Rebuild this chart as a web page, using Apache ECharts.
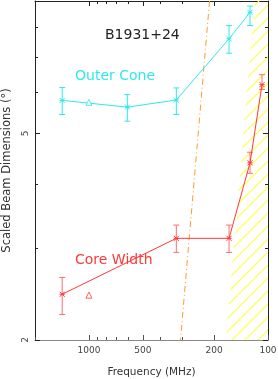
<!DOCTYPE html>
<html><head><meta charset="utf-8">
<script src="https://cdn.jsdelivr.net/npm/echarts@6/dist/echarts.min.js"></script>
<style>html,body{margin:0;padding:0;background:#fff}#c{width:278px;height:379px}</style>
</head><body><div id="c"></div>
<script>
// ---- data ----
const outerFreq = [1410, 610, 325, 165, 126];
const outerVal  = [5.79, 5.62, 5.80, 7.61, 8.56];
const outerLo   = [5.44, 5.28, 5.44, 7.14, 8.07];
const outerHi   = [6.13, 5.94, 6.12, 8.07, 8.80];
const outerTriFreq = [1000];
const outerTriVal  = [5.74];

const coreFreq = [1410, 325, 165, 126, 108];
const coreVal  = [2.45, 3.14, 3.14, 4.39, 6.21];
const coreLo   = [2.24, 2.95, 2.95, 4.19, 6.08];
const coreHi   = [2.64, 3.33, 3.33, 4.60, 6.49];
const coreTriFreq = [1000];
const coreTriVal  = [2.44];

const limitFreq = [212, 308];
const limitVal  = [9, 2];

const hatchFreq = [172, 119, 100, 100];
const hatchVal  = [2, 9, 9, 2];

const xMajor = [1000, 500, 200, 100];
const xMinor = [2000, 900, 800, 700, 600, 400, 300];
const yMajor = [2, 5];
const yMinor = [3, 4, 6, 7, 8, 9];
const FMIN = 100, FMAX = 2000, VMIN = 2, VMAX = 9;

// ---- helpers ----
const L = Math.log10;
const CYAN = '#2ee9ee', RED = '#ff3838', RED_ERR = '#ff6e6e', ORANGE = '#ff9a2e';
const pair = (fs, vs) => fs.map((f, i) => [L(f), L(vs[i])]);
const errData = (fs, lo, hi) => fs.map((f, i) => [L(f), L(lo[i]), L(hi[i])]);

const tile = document.createElement('canvas');
tile.width = 13; tile.height = 13;
const g = tile.getContext('2d');
g.strokeStyle = '#ffff3a'; g.lineWidth = 1.1;
g.beginPath();
g.moveTo(-2, 15); g.lineTo(15, -2);
g.moveTo(-2, 2); g.lineTo(2, -2);
g.moveTo(11, 15); g.lineTo(15, 11);
g.stroke();

function errRender(params, api) {
  const x = api.value(0), lo = api.value(1), hi = api.value(2);
  const p1 = api.coord([x, lo]), p2 = api.coord([x, hi]);
  const w = 3;
  const st = { stroke: api.visual('color'), lineWidth: 1 };
  return { type: 'group', children: [
    { type: 'line', shape: { x1: p1[0], y1: p1[1], x2: p2[0], y2: p2[1] }, style: st },
    { type: 'line', shape: { x1: p1[0] - w, y1: p1[1], x2: p1[0] + w, y2: p1[1] }, style: st },
    { type: 'line', shape: { x1: p2[0] - w, y1: p2[1], x2: p2[0] + w, y2: p2[1] }, style: st }
  ]};
}
function hatchRender(params, api) {
  const pts = hatchFreq.map((f, i) => api.coord([L(f), L(hatchVal[i])]));
  return { type: 'polygon', shape: { points: pts },
    style: { fill: { image: tile, repeat: 'repeat' }, stroke: 'none' } };
}

const fmtF = v => String(Math.round(Math.pow(10, v)));
const fmtV = v => String(Math.round(Math.pow(10, v)));
const AX = '#222', AXB = '#8a8a8a';
const font = '"DejaVu Sans", sans-serif';

function xAx(pos, vals, len, line, labels, extra) {
  return Object.assign({
    type: 'value', position: pos, min: L(FMIN), max: L(FMAX), inverse: true,
    splitLine: { show: false },
    axisLine: { show: line, onZero: false, lineStyle: { color: pos === 'bottom' ? AXB : AX, width: 1 } },
    axisTick: { show: true, inside: true, length: len, customValues: vals.map(L),
      lineStyle: { color: pos === 'bottom' ? '#555' : AX } },
    axisLabel: labels ? { show: true, customValues: vals.map(L), formatter: fmtF,
      color: '#444', fontSize: 9, fontFamily: font, margin: 6 } : { show: false }
  }, extra || {});
}
function yAx(pos, vals, len, line, labels, extra) {
  return Object.assign({
    type: 'value', position: pos, min: L(VMIN), max: L(VMAX),
    splitLine: { show: false },
    axisLine: { show: line, onZero: false, lineStyle: { color: AX, width: 1 } },
    axisTick: { show: true, inside: true, length: len, customValues: vals.map(L), lineStyle: { color: AX } },
    axisLabel: labels ? { show: true, customValues: vals.map(L), formatter: fmtV, rotate: 90,
      color: '#444', fontSize: 9, fontFamily: font, margin: 5 } : { show: false }
  }, extra || {});
}

const option = {
  animation: false,
  backgroundColor: '#fff',
  grid: { left: 35, right: 10, top: 1, bottom: 39, outerBoundsMode: 'none', containLabel: false },
  xAxis: [
    xAx('bottom', xMajor, 5, true, true, { name: 'Frequency (MHz)', nameLocation: 'middle', nameGap: 27,
      nameTextStyle: { color: '#333', fontSize: 10.5, fontFamily: font } }),
    xAx('bottom', xMinor, 3, false, false),
    xAx('top', xMajor, 5, true, false),
    xAx('top', xMinor, 3, false, false)
  ],
  yAxis: [
    yAx('left', yMajor, 5, true, true, { name: 'Scaled Beam Dimensions (°)', nameLocation: 'middle', nameGap: 21,
      nameTextStyle: { color: '#333', fontSize: 11.5, fontFamily: font } }),
    yAx('left', yMinor, 3, false, false),
    yAx('right', yMajor, 5, true, false),
    yAx('right', yMinor, 3, false, false)
  ],
  graphic: [
    { type: 'text', x: 105, y: 35, style: { text: 'B1931+24', fill: '#222', font: '14px "DejaVu Sans"', verticalAlign: 'middle' } },
    { type: 'text', x: 75, y: 76, style: { text: 'Outer Cone', fill: CYAN, font: '14px "DejaVu Sans"', verticalAlign: 'middle' } },
    { type: 'text', x: 75, y: 260, style: { text: 'Core Width', fill: RED, font: '14px "DejaVu Sans"', verticalAlign: 'middle' } }
  ],
  series: [
    { type: 'custom', renderItem: hatchRender, data: [[0]], clip: true, z: 1, silent: true },
    { type: 'line', data: pair(limitFreq, limitVal), showSymbol: false, z: 2,
      lineStyle: { color: ORANGE, width: 1, type: [6, 3, 1, 3] } },
    { type: 'custom', renderItem: errRender, data: errData(outerFreq, outerLo, outerHi),
      itemStyle: { color: CYAN }, z: 3 },
    { type: 'line', data: pair(outerFreq, outerVal), z: 4,
      lineStyle: { color: CYAN, width: 1 },
      symbol: 'path://M0,0L10,10M0,10L10,0M0,5L10,5', symbolSize: 5,
      itemStyle: { color: 'none', borderColor: CYAN, borderWidth: 1 } },
    { type: 'scatter', data: pair(outerTriFreq, outerTriVal), z: 4, symbol: 'triangle', symbolSize: 6,
      itemStyle: { color: '#fff', borderColor: CYAN, borderWidth: 1 } },
    { type: 'custom', renderItem: errRender, data: errData(coreFreq, coreLo, coreHi),
      itemStyle: { color: RED_ERR }, z: 3 },
    { type: 'line', data: pair(coreFreq, coreVal), z: 4,
      lineStyle: { color: RED, width: 1 },
      symbol: 'path://M0,0L10,10M0,10L10,0M0,5L10,5', symbolSize: 5,
      itemStyle: { color: 'none', borderColor: RED, borderWidth: 1 } },
    { type: 'scatter', data: pair(coreTriFreq, coreTriVal), z: 4, symbol: 'triangle', symbolSize: 6,
      itemStyle: { color: '#fff', borderColor: RED, borderWidth: 1 } }
  ]
};
const chart = echarts.init(document.getElementById('c'), null, { renderer: 'canvas' });
chart.setOption(option);
</script>
</body></html>
